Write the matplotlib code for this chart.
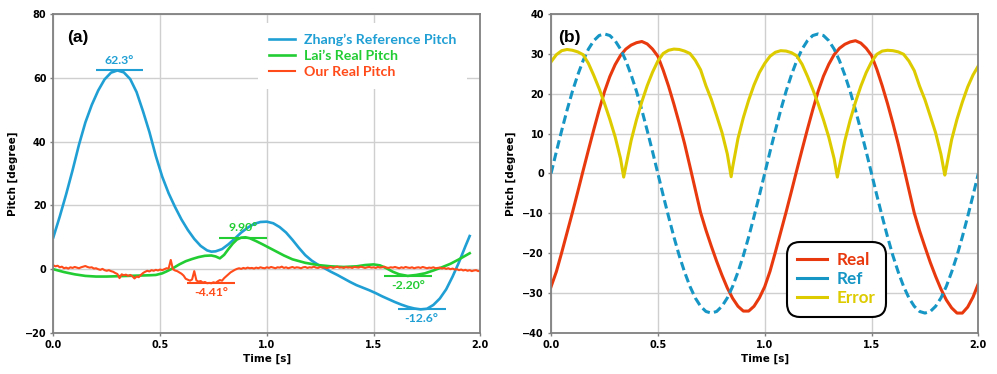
import matplotlib
matplotlib.use("Agg")
import matplotlib.pyplot as plt

# ---------------- Panel (a) data ----------------
zhang_t = [0.00, 0.03, 0.06, 0.09, 0.12, 0.15, 0.18, 0.21, 0.24, 0.27, 0.30, 0.33, 0.36, 0.39,
           0.42, 0.45, 0.48, 0.51, 0.54, 0.57, 0.60, 0.63, 0.66, 0.69, 0.72, 0.74, 0.76, 0.79,
           0.82, 0.85, 0.88, 0.91, 0.94, 0.97, 1.00, 1.03, 1.06, 1.09, 1.12, 1.15, 1.18, 1.21,
           1.24, 1.27, 1.30, 1.33, 1.36, 1.39, 1.42, 1.45, 1.48, 1.51, 1.54, 1.57, 1.60, 1.63,
           1.66, 1.69, 1.72, 1.75, 1.78, 1.81, 1.84, 1.87, 1.90, 1.93, 1.95]
zhang_v = [10.0, 16.5, 23.5, 31.0, 39.0, 46.0, 51.5, 56.0, 59.5, 61.6, 62.3, 61.7, 59.6, 55.5,
           49.5, 43.0, 35.5, 29.0, 23.8, 19.5, 15.6, 12.3, 9.5, 7.3, 5.9, 5.5, 5.6, 6.3,
           7.8, 9.6, 11.5, 13.0, 14.2, 14.8, 14.9, 14.4, 13.2, 11.5, 9.2, 6.7, 4.4, 2.7,
           1.4, 0.3, -0.8, -1.8, -2.9, -4.0, -5.0, -5.8, -6.6, -7.5, -8.5, -9.4, -10.3, -11.1,
           -11.8, -12.3, -12.6, -12.4, -11.2, -9.2, -6.3, -2.3, 2.2, 7.2, 10.4]

lai_t = [0.00, 0.05, 0.10, 0.15, 0.20, 0.25, 0.30, 0.35, 0.40, 0.45, 0.48, 0.51, 0.53, 0.56,
         0.59, 0.62, 0.65, 0.68, 0.71, 0.74, 0.76, 0.78, 0.80, 0.82, 0.84, 0.86, 0.88, 0.90,
         0.92, 0.95, 0.98, 1.00, 1.04, 1.08, 1.12, 1.18, 1.24, 1.30, 1.36, 1.42, 1.46, 1.50,
         1.53, 1.56, 1.59, 1.62, 1.66, 1.70, 1.74, 1.78, 1.82, 1.86, 1.90, 1.95]
lai_v = [0.0, -0.9, -1.6, -2.1, -2.3, -2.3, -2.2, -2.1, -2.0, -1.9, -1.8, -1.3, -0.7, 0.3,
         1.5, 2.5, 3.2, 3.8, 4.2, 4.3, 4.0, 3.4, 4.5, 6.3, 8.0, 9.3, 9.9, 10.0,
         9.7, 8.8, 7.8, 7.1, 5.7, 4.3, 3.1, 2.0, 1.3, 0.9, 0.7, 0.9, 1.3, 1.5,
         1.2, 0.3, -0.8, -1.6, -2.1, -1.8, -1.3, -0.4, 0.6, 1.7, 3.1, 5.0]

# Our Real Pitch, sampled every 0.01 s from 0.00 to 2.00
our_v = [1.2, 0.9, 1.1, 0.6, 0.8, 0.3, 0.5, 0.2, 0.6, 0.4,
         0.7, 0.5, 0.3, 0.6, 0.8, 1.0, 0.7, 0.5, 0.6, 0.2,
         0.3, 0.0, -0.2, 0.1, -0.3, -0.5, -0.3, -0.6, -0.8, -1.2,
         -1.5, -2.8, -1.6, -1.9, -1.7, -2.1, -1.8, -2.2, -2.9, -2.3,
         -2.5, -1.8, -1.2, -0.8, -0.5, -0.7, -0.3, -0.5, -0.2, -0.4,
         -0.1, -0.3, 0.0, 0.3, 0.2, 2.9, 0.0, -0.4, -0.6, -1.0,
         -1.4, -2.0, -3.0, -3.3, -3.6, -3.2, -0.6, -3.5, -3.9, -3.7,
         -4.2, -4.0, -4.4, -4.3, -4.4, -4.1, -4.3, -3.8, -3.4, -3.6,
         -2.8, -2.2, -1.6, -1.0, -0.6, -0.2, 0.1, 0.3, 0.1, 0.4,
         0.2, 0.5, 0.3, 0.4, 0.2, 0.5, 0.3, 0.6, 0.4, 0.3,
         0.6, 0.4, 0.7, 0.5, 0.3, 0.6, 0.5, 0.8, 0.4, 0.6,
         0.3, 0.5, 0.7, 0.4, 0.6, 0.5, 0.3, 0.6, 0.7, 0.4,
         0.6, 0.5, 0.8, 0.5, 0.4, 0.7, 0.5, 0.6, 0.3, 0.5,
         0.7, 0.4, 0.6, 0.8, 0.5, 0.6, 0.4, 0.7, 0.5, 0.6,
         0.4, 0.7, 0.6, 0.5, 0.8, 0.6, 0.4, 0.6, 0.7, 0.5,
         0.6, 0.4, 0.7, 0.5, 0.6, 0.8, 0.5, 0.4, 0.6, 0.5,
         0.7, 0.5, 0.3, 0.6, 0.4, 0.7, 0.5, 0.4, 0.6, 0.3,
         0.5, 0.6, 0.4, 0.7, 0.5, 0.3, 0.5, 0.4, 0.6, 0.3,
         0.4, 0.5, 0.2, 0.4, 0.1, 0.3, 0.0, 0.2, -0.1, 0.0,
         -0.3, -0.1, -0.4, -0.2, -0.5, -0.3, -0.6, -0.4, -0.3, -0.6,
         -0.5]
our_t = [i / 100 for i in range(len(our_v))]

# Marked extreme values
mark_t = [0.31, 0.887, 0.737, 1.663, 1.725]
mark_v = [62.3, 9.90, -4.41, -2.20, -12.6]
mark_labels = ["62.3°", "9.90°", "-4.41°", "-2.20°", "-12.6°"]
mark_series = ["zhang", "lai", "our", "lai", "zhang"]

# ---------------- Panel (b) data ----------------
ref_t = [i * 0.025 for i in range(81)]
ref_v = [0.0, 5.5, 10.8, 15.9, 20.6, 24.7, 28.3, 31.2, 33.3, 34.6,
         35.0, 34.6, 33.3, 31.2, 28.3, 24.7, 20.6, 15.9, 10.8, 5.5,
         0.0, -5.5, -10.8, -15.9, -20.6, -24.7, -28.3, -31.2, -33.3, -34.6,
         -35.0, -34.6, -33.3, -31.2, -28.3, -24.7, -20.6, -15.9, -10.8, -5.5,
         0.0, 5.5, 10.8, 15.9, 20.6, 24.7, 28.3, 31.2, 33.3, 34.6,
         35.0, 34.6, 33.3, 31.2, 28.3, 24.7, 20.6, 15.9, 10.8, 5.5,
         0.0, -5.5, -10.8, -15.9, -20.6, -24.7, -28.3, -31.2, -33.3, -34.6,
         -35.0, -34.6, -33.3, -31.2, -28.3, -24.7, -20.6, -15.9, -10.8, -5.5,
         0.0]

real_t = [i * 0.025 for i in range(81)]
real_v = [-28.4, -24.6, -19.8, -14.8, -9.8, -4.6, 0.7, 5.9, 11.0, 15.9,
          20.5, 24.3, 27.3, 29.6, 31.2, 32.2, 32.8, 33.1, 32.5, 31.2,
          29.4, 25.9, 21.9, 17.4, 12.6, 7.5, 1.8, -4.0, -9.8, -14.2,
          -18.2, -22.0, -25.5, -28.7, -31.3, -33.3, -34.5, -34.5, -33.3, -31.2,
          -28.4, -24.5, -19.7, -14.7, -9.7, -4.5, 0.8, 6.0, 11.1, 16.0,
          20.6, 24.4, 27.4, 29.8, 31.4, 32.4, 33.0, 33.3, 32.7, 31.4,
          29.6, 26.1, 22.0, 17.5, 12.6, 7.4, 1.7, -4.1, -9.9, -14.4,
          -18.4, -22.3, -25.8, -29.0, -31.7, -33.7, -35.0, -35.0, -33.5, -31.0,
          -27.6]

err_t = [0.000, 0.025, 0.050, 0.075, 0.100, 0.125, 0.150, 0.175, 0.200, 0.225,
         0.250, 0.275, 0.300, 0.325, 0.340, 0.350, 0.375, 0.400, 0.425, 0.450,
         0.475, 0.500, 0.525, 0.550, 0.575, 0.600, 0.625, 0.650, 0.675, 0.700,
         0.725, 0.750, 0.775, 0.800, 0.825, 0.843, 0.850, 0.875, 0.900, 0.925,
         0.950, 0.975, 1.000, 1.025, 1.050, 1.075, 1.100, 1.125, 1.150, 1.175,
         1.200, 1.225, 1.250, 1.275, 1.300, 1.325, 1.340, 1.350, 1.375, 1.400,
         1.425, 1.450, 1.475, 1.500, 1.525, 1.550, 1.575, 1.600, 1.625, 1.650,
         1.675, 1.700, 1.725, 1.750, 1.775, 1.800, 1.825, 1.843, 1.850, 1.875,
         1.900, 1.925, 1.950, 1.975, 2.000]
err_v = [28.0, 29.8, 30.8, 31.1, 30.9, 30.5, 29.8, 27.6, 24.6, 21.3,
         17.6, 13.6, 9.2, 3.8, -0.9, 1.8, 8.3, 13.5, 18.0, 22.0,
         25.4, 28.2, 30.1, 30.9, 31.2, 31.1, 30.7, 30.1, 28.4, 26.0,
         22.0, 18.6, 14.5, 10.3, 4.9, -0.8, 1.6, 8.8, 14.0, 18.4,
         22.2, 25.3, 27.6, 29.4, 30.4, 30.8, 30.7, 30.3, 29.5, 27.4,
         24.4, 21.1, 17.5, 13.5, 9.1, 3.7, -0.9, 1.8, 8.2, 13.4,
         17.9, 21.9, 25.3, 28.0, 29.9, 30.7, 30.9, 30.8, 30.5, 29.9,
         28.2, 25.8, 21.9, 18.5, 14.4, 10.2, 4.8, -0.4, 1.5, 8.5,
         13.6, 17.9, 21.7, 24.7, 27.0]

# ---------------- Styling ----------------
C_ZHANG = "#1f9fd4"
C_LAI = "#22cc33"
C_OUR = "#ff4b1a"
C_REAL = "#e8390e"
C_REF = "#1696c4"
C_ERR = "#ddcb00"
HUMAN = ["Lato", "DejaVu Sans"]

plt.rcParams["font.family"] = ["DejaVu Sans"]
plt.rcParams["font.weight"] = "bold"

fig = plt.figure(figsize=(9.97, 3.74), dpi=100)
ax1 = fig.add_axes([0.0535, 0.1096, 0.4283, 0.853])
ax2 = fig.add_axes([0.5527, 0.1096, 0.4286, 0.853])


def style_axes(ax):
    ax.grid(True, color="#cfcfcf", lw=1.0)
    ax.set_axisbelow(True)
    for s in ax.spines.values():
        s.set_color("#808080")
        s.set_linewidth(1.3)
    ax.tick_params(axis="both", labelsize=7, length=2.5, width=1.0, color="#808080", pad=2.5)
    for lab in ax.get_xticklabels() + ax.get_yticklabels():
        lab.set_fontweight("bold")
    ax.set_xlabel("Time [s]", fontsize=7.5, fontweight="bold", labelpad=3)
    ax.set_ylabel("Pitch [degree]", fontsize=7.5, fontweight="bold", labelpad=5)


# ---- Panel (a) ----
l1, = ax1.plot(zhang_t, zhang_v, color=C_ZHANG, lw=1.9, label="Zhang’s Reference Pitch")
l2, = ax1.plot(lai_t, lai_v, color=C_LAI, lw=1.9, label="Lai’s Real Pitch")
l3, = ax1.plot(our_t, our_v, color=C_OUR, lw=1.5, label="Our Real Pitch")
ax1.set_xlim(0, 2)
ax1.set_ylim(-20, 80)
ax1.set_xticks([0.0, 0.5, 1.0, 1.5, 2.0])
ax1.set_xticklabels(["0.0", "0.5", "1.0", "1.5", "2.0"])
ax1.set_yticks([-20, 0, 20, 40, 60, 80])
style_axes(ax1)

series_color = {"zhang": C_ZHANG, "lai": C_LAI, "our": C_OUR}
bar_half = 0.112
for t, v, lab, s in zip(mark_t, mark_v, mark_labels, mark_series):
    c = series_color[s]
    ax1.plot([t - bar_half, t + bar_half], [v, v], color=c, lw=1.5, solid_capstyle="butt")
    dy = 7 if v > 5 else -6.5
    ax1.annotate(lab, xy=(t, v), xytext=(0, dy), textcoords="offset points",
                 ha="center", va="center", color=c, fontsize=8.8, fontweight="bold",
                 family=HUMAN)

ax1.text(0.058, 0.926, "(a)", transform=ax1.transAxes, fontsize=12.5, fontweight="bold",
         family=["Liberation Sans", "DejaVu Sans"], ha="center", va="center")

leg1 = ax1.legend(handles=[l1, l2, l3], loc="upper left", bbox_to_anchor=(0.479, 0.972),
                  borderaxespad=0, frameon=True, fancybox=False, framealpha=1.0,
                  facecolor="white", edgecolor="none", handlelength=1.85, handletextpad=0.65,
                  labelspacing=0.3, borderpad=0.75,
                  prop={"family": HUMAN, "weight": "bold", "size": 10.2})
for txt, ln in zip(leg1.get_texts(), [l1, l2, l3]):
    txt.set_color(ln.get_color())

# ---- Panel (b) ----
m1, = ax2.plot(real_t, real_v, color=C_REAL, lw=2.2, label="Real")
m2, = ax2.plot(ref_t, ref_v, color=C_REF, lw=2.2, ls=(0, (2.8, 1.4)), label="Ref")
m3, = ax2.plot(err_t, err_v, color=C_ERR, lw=2.2, label="Error")
ax2.set_xlim(0, 2)
ax2.set_ylim(-40, 40)
ax2.set_xticks([0.0, 0.5, 1.0, 1.5, 2.0])
ax2.set_xticklabels(["0.0", "0.5", "1.0", "1.5", "2.0"])
ax2.set_yticks([-40, -30, -20, -10, 0, 10, 20, 30, 40])
style_axes(ax2)

ax2.text(0.043, 0.926, "(b)", transform=ax2.transAxes, fontsize=12.5, fontweight="bold",
         family=["Liberation Sans", "DejaVu Sans"], ha="center", va="center")

leg2 = ax2.legend(handles=[m1, m2, m3], loc="upper left", bbox_to_anchor=(0.5516, 0.2862),
                  borderaxespad=0, frameon=True, fancybox=True, framealpha=1.0,
                  facecolor="white", edgecolor="black", handlelength=1.75, handletextpad=0.55,
                  labelspacing=0.17, borderpad=0.62,
                  prop={"family": HUMAN, "weight": "bold", "size": 12.3})
leg2.get_frame().set_linewidth(1.5)
leg2.get_frame().set_boxstyle("round,pad=0,rounding_size=0.8")
for txt, ln in zip(leg2.get_texts(), [m1, m2, m3]):
    txt.set_color(ln.get_color())
for h in leg2.legend_handles:
    h.set_linestyle("-")

fig.savefig("out.png", dpi=100)
